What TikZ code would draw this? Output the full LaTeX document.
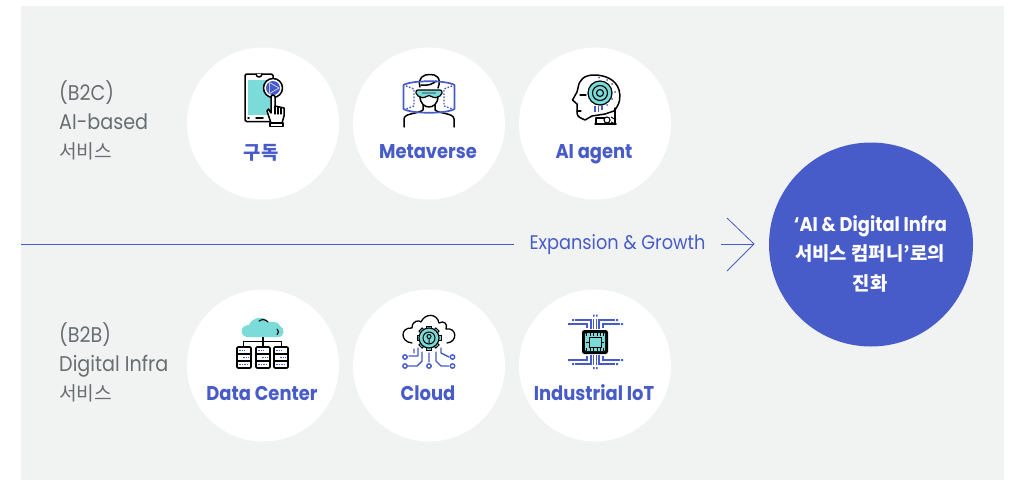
\documentclass[tikz,border=0pt]{standalone}
\usepackage{fontspec}
\setmainfont[FakeStretch=0.9]{Poppins}
\newfontfamily\kr{Noto Sans CJK KR}
\definecolor{panelbg}{HTML}{F1F3F3}
\definecolor{brand}{HTML}{475BC9}
\definecolor{tealc}{HTML}{7ADBD9}
\definecolor{graytxt}{HTML}{6A6E71}
\tikzset{
  disc/.style={circle,fill=white,minimum size=152pt,inner sep=0pt},
  lab/.style={text=brand,font=\fontsize{19.9}{20}\selectfont\bfseries,inner sep=0pt,anchor=base},
  side/.style={text=graytxt,anchor=base west,inner sep=0pt,font=\fontsize{21.3}{20}\selectfont},
  wht/.style={text=white,font=\fontsize{19.8}{20}\selectfont\bfseries,inner sep=0pt,anchor=base},
  ico/.style={draw=black,line width=1.5pt,line join=round,line cap=round},
  icb/.style={draw=brand,line width=1.4pt,line join=round,line cap=round},
  dots/.style={draw=brand,line width=1.4pt,dash pattern=on 1.6pt off 1.6pt},
}
\begin{document}
\begin{tikzpicture}[x=1pt,y=-1pt]
\useasboundingbox (0,0) rectangle (1019,480);
\fill[white] (0,0) rectangle (1019,480);
\fill[panelbg] (21,6) rectangle (1004,480);
% discs
\node[disc] (d1) at (263,123.5) {};
\node[disc] (d2) at (429,123.5) {};
\node[disc] (d3) at (595,123.5) {};
\node[disc] (d4) at (263,365.5) {};
\node[disc] (d5) at (429,365.5) {};
\node[disc] (d6) at (595,365.5) {};
\node[circle,fill=brand,minimum size=204pt,inner sep=0pt] (goal) at (871,244.5) {};
% labels
\node[lab] (l1) at (261,159) {\fontsize{18.8}{20}\selectfont\kr\bfseries 구독};
\node[lab] (l2) at (428,158) {Metaverse};
\node[lab] (l3) at (594,158) {AI agent};
\node[lab] (l4) at (262,400) {Data Center};
\node[lab] (l5) at (428,400) {Cloud};
\node[lab] (l6) at (594,400) {Industrial IoT};
\node[side] (s1) at (59,100) {(B2C)};
\node[side] (s2) at (59,129) {AI-based};
\node[side] (s3) at (59,158) {\fontsize{19.2}{20}\selectfont\kr 서비스};
\node[side] (s4) at (59,342) {(B2B)};
\node[side] (s5) at (59,371) {Digital Infra};
\node[side] (s6) at (59,400) {\fontsize{19.2}{20}\selectfont\kr 서비스};
\node[wht] (g1) at (870.5,231) {‘AI \& Digital Infra};
\node[wht] (g2) at (870,260) {\fontsize{18.8}{20}\selectfont\kr\bfseries 서비스 컴퍼니’로의};
\node[wht] (g3) at (870,290) {\fontsize{18.8}{20}\selectfont\kr\bfseries 진화};
% connector
\coordinate (lstart) at (21,244);
\coordinate (tip) at (754,244);
\coordinate (tipa) at (727,218);
\coordinate (tipc) at (727,271);
\node[text=brand,inner xsep=15.5pt,inner ysep=2pt,font=\fontsize{19.7}{20}\selectfont] (exp) at (617.5,244.5) {Expansion \& Growth};
\draw[brand,line width=0.8pt] (lstart) -- (exp.west |- lstart);
\draw[brand,line width=0.8pt] (exp.east |- tip) -- (tip);
\draw[brand,line width=0.8pt,line join=miter] (tipa) -- (tip) -- (tipc);
% --- icon: phone
\draw[ico,fill=white,rounded corners=1.5pt] (245,74) rectangle (273,121.5);
\fill[tealc] (248,80) rectangle (270.5,115);
\draw[ico,fill=white] (256,74) arc[start angle=180,end angle=0,radius=3];
\draw[ico] (248,118) -- (249,118) (256,118) -- (263,118);
\draw[ico,fill=white] (273,88) circle (9.5);
\fill[brand] (273,88) circle (7);
\fill[brand,draw=white,line width=0.5pt,line join=round] (269.5,82.5) -- (279,88) -- (269.5,93.5) -- cycle;
\draw[ico,fill=white] (271,97) arc[start angle=180,end angle=360,radius=2] -- (275,106) -- (284,108) -- (284,116) -- (282,123) -- (271,123) -- (267,111) -- (268.5,109) -- (271,113) -- cycle;
\draw[ico,line width=1.1pt] (275,106) -- (275,114) (278,107) -- (278,114) (281,108) -- (281,114);
\draw[ico,fill=white] (270,123) rectangle (283,126.5);
% --- icon: metaverse
\draw[ico] (420,87) .. controls (417,78) and (424,74) .. (430,74.5) .. controls (436,74) and (442,78) .. (438,88);
\draw[ico] (421,85) .. controls (428,86) and (433,84) .. (436,81);
\draw[ico,fill=white] (420,96) .. controls (420,104) and (425,107) .. (429,107) .. controls (433,107) and (438,104) .. (438,96);
\draw[ico] (404,127) -- (404,119) .. controls (404,113) and (418,114) .. (423,110) -- (423,105);
\draw[ico] (454,127) -- (454,119) .. controls (454,113) and (440,114) .. (435,110) -- (435,105);
\draw[dots] (406,86) -- (414,89) -- (414,106) -- (406,109) (452,86) -- (444,89) -- (444,106) -- (452,109);
\draw[icb,line width=1.7pt] (403.5,85) .. controls (412,80) and (446,80) .. (454.5,85) -- (454.5,109) .. controls (446,114) and (412,114) .. (403.5,109) -- cycle;
\draw[line width=1.2pt,black,fill=tealc,rounded corners=2pt] (416,90) -- (442,90) -- (442,95) -- (434,98.5) -- (431,95.5) -- (427,95.5) -- (424,98.5) -- (416,95) -- cycle;
\fill[tealc!70!black] (422,92) rectangle (436,94);
% --- icon: AI head
\draw[ico,fill=white] (594,75) .. controls (584,75) and (579,80) .. (578,88) -- (577,92) -- (572.5,100) -- (577,104) -- (577,113) .. controls (577,117) and (581,118) .. (585,120) -- (592,116) -- (605,114) -- (614,111) .. controls (620,104) and (621,97) .. (619,90) .. controls (616,80) and (606,75) .. (594,75) -- cycle;
\draw[ico] (615,108) -- (615,124);
\draw[ico] (596,118) -- (596,124);
\draw[ico] (595,124) -- (616,124) (596,118) -- (606,118);
\draw[ico,line width=1.2pt] (580,95) -- (586,95) (577,111) -- (581,111);
\fill[tealc,draw=black,line width=1.2pt] (600,93) circle (12);
\draw[black,line width=1.1pt] (600,93) circle (7.5) (600,93) circle (3.5);
\draw[brand,line width=1.4pt] (595,106) -- (595,112) (598.5,105.5) -- (598.5,112) (602,105) -- (602,110);
\fill[brand] (599,77.5) circle (1) (607,80) circle (1) (612,84) circle (1) (615,92) circle (1) (612,99) circle (1) (607,105) circle (1);
\draw[black,line width=1.1pt,fill=white] (607,120) circle (3);
\draw[black,line width=1pt] (611,117) -- (616,120) (611,122) -- (615,124);
% --- icon: data center
\fill[tealc] (247,337) .. controls (239,336) and (240,325) .. (249,325) .. controls (251,319) and (262,314) .. (269,322) .. controls (275,321) and (279,323) .. (280,326) .. controls (285,328) and (285,337) .. (278,337) -- cycle;
\draw[ico,line width=1.1pt] (259,321) .. controls (262,319) and (265,319) .. (268,322);
\draw[ico,line width=1.1pt] (277,329) .. controls (279,331) and (279,333) .. (277,334.5);
\draw[ico,line width=1.4pt,line cap=butt] (263,337) -- (263,341.5) (243.5,347) -- (243.5,341.5) -- (281.5,341.5) -- (281.5,347) (263,341.5) -- (263,347);
\foreach \x in {237,256,274}{
  \draw[ico,line width=1.6pt,rounded corners=1pt,fill=white] (\x,347) rectangle +(14,21);
  \draw[ico,line width=1.3pt] (\x,354) -- +(14,0) (\x,361) -- +(14,0);
  \draw[brand,line width=1.5pt,dash pattern=on 1.5pt off 1pt] (\x+2,350.5) -- +(6,0) (\x+6,357.5) -- +(6,0) (\x+2,364.5) -- +(10,0);
}
% --- icon: cloud
\draw[ico,line width=1.3pt] (412,343) .. controls (400,342) and (400,327) .. (412,328) .. controls (412,320) and (420,320) .. (421,322) .. controls (425,313) and (437,313) .. (439,323) .. controls (444,320) and (448,324) .. (446,329) .. controls (457,327) and (458,342) .. (447,343);
\foreach \a in {0,45,...,315}{
  \fill[tealc,draw=black,line width=1pt,rotate around={\a:(429,338)}] (426.8,326) rectangle (431.2,329.2);
}
\fill[tealc,draw=black,line width=1.1pt] (429,338) circle (10);
\draw[black,line width=1pt] (429,338) circle (6);
\draw[black,line width=1pt] (429,336.5) circle (2) (429,338.5) -- (429,344);
\draw[icb] (418,348) -- (418,356) -- (409,356) (414,349) -- (414,353) (422,352) -- (422,361) -- (417,366) -- (408,366) (429,353) -- (429,362) (441,348) -- (441,353) -- (449,357) (436,352) -- (436,361) -- (441,366) -- (449,366);
\draw[icb,fill=white] (405,357) circle (2.2) (405,366) circle (2.2) (429,366) circle (2.2) (452.5,357) circle (2.2) (452.5,366) circle (2.2);
% --- icon: chip
\fill[black,rounded corners=2.5pt] (582,330) rectangle (608,354);
\fill[tealc,rounded corners=1pt] (585,333) rectangle (605,351);
\draw[black,line width=0.9pt] (589,337) rectangle (601,347);
\foreach \x in {586.5,590,593.5,597,600.5,603.5}{
  \draw[black,line width=0.8pt] (\x,333) -- (\x,336) (\x,348) -- (\x,351);
}
\draw[black,line width=0.8pt] (586,342) -- (589,342) (601,342) -- (604,342);
\fill[tealc] (591.5,339.5) rectangle (598.5,344.5);
\draw[brand,line width=1.4pt]
  (575,320) -- (591,320) -- (591,329) (570,324) -- (587,324) -- (587,328)
  (615,320) -- (599,320) -- (599,329) (620,324) -- (603,324) -- (603,328)
  (593.5,319) -- (593.5,329) (596.5,319) -- (596.5,329)
  (575,364) -- (591,364) -- (591,355) (570,360) -- (587,360) -- (587,356)
  (615,364) -- (599,364) -- (599,355) (620,360) -- (603,360) -- (603,356)
  (593.5,365) -- (593.5,355) (596.5,365) -- (596.5,355);
\fill[brand] (568,323) rectangle +(2,2) (572,319) rectangle +(2,2) (616,319) rectangle +(2,2) (621,323) rectangle +(2,2) (593,314.5) rectangle +(1.5,2) (596,314.5) rectangle +(1.5,2)
  (568,359) rectangle +(2,2) (572,363) rectangle +(2,2) (616,363) rectangle +(2,2) (621,359) rectangle +(2,2) (593,367) rectangle +(1.5,2) (596,367) rectangle +(1.5,2);
\end{tikzpicture}
\end{document}
